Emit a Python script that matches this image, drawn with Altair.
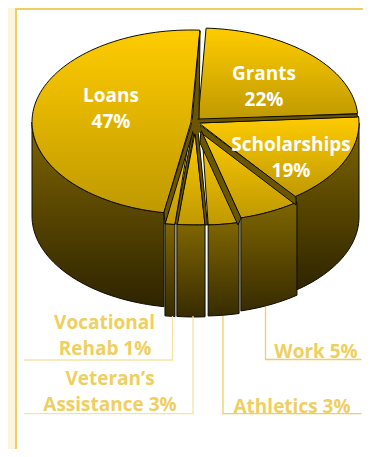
import math
import altair as alt

# Values
categories = ["Loans", "Grants", "Scholarships", "Work", "Athletics", "Veteran's Assistance", "Vocational Rehab"]
shares = [47, 22, 19, 5, 3, 3, 1]
# Apparent clockwise start / end angle of each slice as drawn (perspective view), degrees from the top
angle_start = [189.8, 2.9, 86.0, 142.7, 166.6, 176.4, 185.4]
angle_end = [363.2, 86.0, 143.3, 165.2, 177.8, 186.5, 189.0]
# Where each exploded slice has its apex
apex_x = [191, 198, 199, 200, 202, 195, 190]
apex_y = [122, 120, 123, 129, 133, 133, 133]

# Layout constants
RX, RY = 160, 92
DEPTH = [94, 94, 94, 93, 91, 92, 92]
TOP_FILL = ["#FFCC00", "#BF9900"]
WALL_FILL = ["#7F6600", "#2E2400"]
STRIP = "#6B5600"
EDGE = "#0E0B00"
GOLD = "#EFCF60"
PALE = "#F6E3A4"
CREAM = "#FBF4DF"


def pt(i, a, dy=0):
    r = math.radians(a)
    rx = RX - 1 if i == 0 else RX
    return [apex_x[i] + rx * math.sin(r), apex_y[i] - RY * math.cos(r) + dy]


def arc(i, a0, a1, dy=0):
    n = max(2, int(abs(a1 - a0) / 2) + 1)
    return [pt(i, a0 + (a1 - a0) * k / (n - 1), dy) for k in range(n)]


def feature(coords, kind="Polygon"):
    if kind == "Polygon":
        coords = [coords + [coords[0]]]
    return {"type": "Feature", "properties": {}, "geometry": {"type": kind, "coordinates": coords}}


PROJ = dict(type="identity", scale=1, translate=[-8, -8])


def gradient(stops):
    return alt.Gradient(gradient="linear", x1=0, x2=0, y1=0, y2=1,
                        stops=[alt.GradientStop(color=stops[0], offset=0),
                               alt.GradientStop(color=stops[1], offset=1)])


def shape(coords, fill, stroke=EDGE, sw=1.0):
    return (alt.Chart(alt.Data(values=[feature(coords)]))
            .mark_geoshape(fill=fill, stroke=stroke, strokeWidth=sw)
            .project(**PROJ))


def line(coords, color, sw=1.3):
    return (alt.Chart(alt.Data(values=[feature(coords, "LineString")]))
            .mark_geoshape(filled=False, stroke=color, strokeWidth=sw)
            .project(**PROJ))


layers = []
# Panel
layers.append(shape([[16, 9], [380, 9], [380, 470], [16, 470]], "#FFFFFF", GOLD, 2))

# Outer walls, back first
wall_spans = {0: (189.8, 270), 2: (90, 143.3)}
for i, (a0, a1) in wall_spans.items():
    layers.append(shape(arc(i, a0, a1) + arc(i, a1, a0, DEPTH[i]), gradient(WALL_FILL)))

# Top faces of the three big slices
for i in [0, 1, 2]:
    layers.append(shape([[apex_x[i], apex_y[i]]] + arc(i, angle_start[i], angle_end[i]), gradient(TOP_FILL)))

# Radial strips of the big slices
layers.append(shape([[200, 31], [192, 122], [199, 123]], STRIP))
layers.append(shape([[198, 119], [357, 114], [357.5, 117], [199, 123]], STRIP))

# Small front slices: top and wall
for i in [3, 4, 5, 6]:
    layers.append(shape([[apex_x[i], apex_y[i]]] + arc(i, angle_start[i], angle_end[i]), gradient(TOP_FILL)))
    a0, a1 = angle_start[i], angle_end[i]
    layers.append(shape(arc(i, a0, a1) + arc(i, a1, a0, DEPTH[i]), gradient(["#7F6600", "#372C00"])))

# Radial strips between the slices
strips = [
    [[200, 125], [296, 197], [296, 205], [200, 132]],
    [[201, 130], [241, 218], [238, 225], [200, 143]],
    [[195, 132], [198, 130], [207.5, 225], [205, 225]],
    [[193, 128], [195, 128], [177.5, 224], [175, 224]],
    [[192, 122], [195, 125], [165, 224], [164, 212]],
]
for s in strips:
    layers.append(shape(s, STRIP))

# Dark hub where the strips meet
layers.append(shape([[192, 120], [199, 120], [201, 131], [198, 134], [195, 134], [192.5, 130]], STRIP, STRIP, 0.5))

# Leader lines
layers.append(line([[172.5, 316], [172.5, 360], [24, 360]], PALE))
layers.append(line([[193, 316], [193, 413.7], [24, 413.7]], PALE))
layers.append(line([[223, 316], [223, 413.7], [361.5, 413.7]], GOLD))
layers.append(line([[265.5, 307], [265.5, 359.5], [361.5, 359.5]], GOLD))

# Labels
inside = [
    dict(t="Loans", x=111, y=95.5), dict(t=f"{shares[0]}%", x=111, y=121.5),
    dict(t="Grants", x=264, y=73.5), dict(t=f"{shares[1]}%", x=264, y=99.5),
    dict(t="Scholarships", x=291, y=145), dict(t=f"{shares[2]}%", x=291, y=170.5),
]
outside = [
    dict(t="Vocational", x=104.5, y=323), dict(t=f"Rehab {shares[6]}%", x=105, y=349),
    dict(t="Veteran\u2019s", x=110, y=379), dict(t=f"Assistance {shares[5]}%", x=110, y=405),
    dict(t=f"Work {shares[3]}%", x=316, y=352), dict(t=f"Athletics {shares[4]}%", x=292, y=407),
]
for rows, col in ((inside, "#FFFFFF"), (outside, GOLD)):
    layers.append(
        alt.Chart(alt.Data(values=rows))
        .mark_text(font="Open Sans", fontWeight="bold", fontSize=19, color=col, align="center", baseline="middle")
        .encode(longitude="x:Q", latitude="y:Q", text="t:N")
        .project(**PROJ)
    )

chart = (
    alt.layer(*layers)
    .properties(width=355, height=441, padding=0, background=CREAM,
                autosize=alt.AutoSizeParams(type="none"))
    .configure_view(stroke=None)
)
chart.save("out.html", embed_options={"renderer": "svg", "actions": False})
